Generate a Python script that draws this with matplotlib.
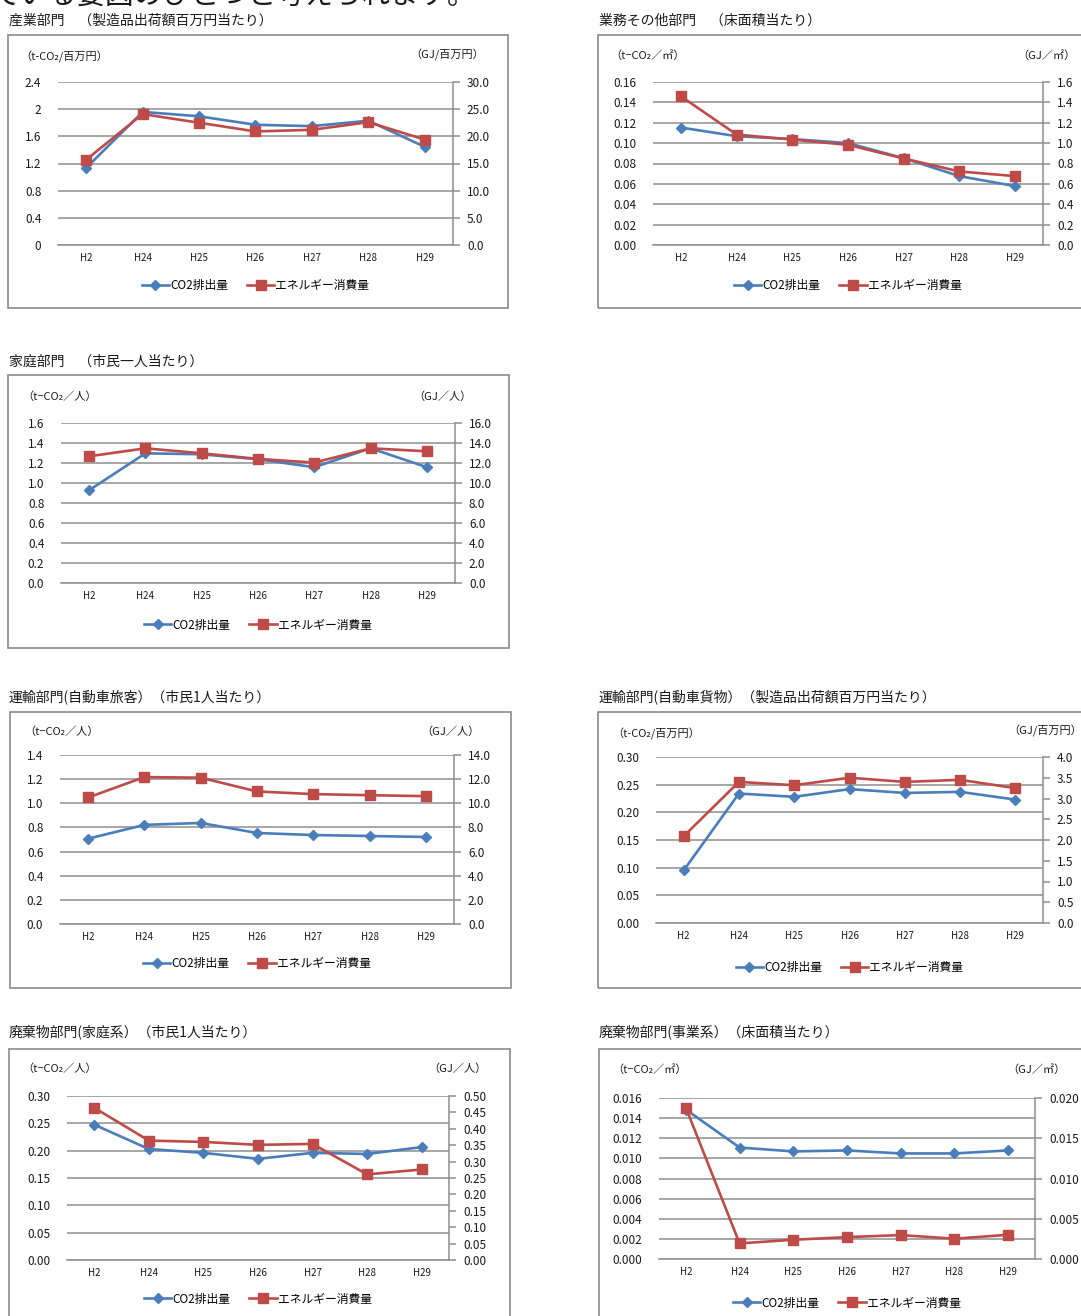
import matplotlib
matplotlib.use('Agg')
import matplotlib.pyplot as plt
from matplotlib.patches import Rectangle
from matplotlib.lines import Line2D

plt.rcParams['font.family'] = ['Noto Sans CJK JP', 'DejaVu Sans']

W, H = 1081, 1316
fig = plt.figure(figsize=(W / 100, H / 100), dpi=100)

categories = ['H2', 'H24', 'H25', 'H26', 'H27', 'H28', 'H29']
series_names = ['CO2排出量', 'エネルギー消費量']

# 産業部門
ind_co2 = [1.136, 1.96, 1.895, 1.77, 1.75, 1.83, 1.445]
ind_energy = [15.7, 24.1, 22.5, 20.9, 21.2, 22.6, 19.4]
# 業務その他部門
com_co2 = [0.1153, 0.1068, 0.104, 0.100, 0.0852, 0.0676, 0.0578]
com_energy = [1.46, 1.084, 1.035, 0.983, 0.849, 0.722, 0.676]
# 家庭部門
home_co2 = [0.928, 1.297, 1.287, 1.237, 1.158, 1.347, 1.158]
home_energy = [12.67, 13.47, 12.97, 12.41, 12.04, 13.47, 13.17]
# 運輸部門（自動車旅客）
pas_co2 = [0.707, 0.821, 0.837, 0.754, 0.737, 0.729, 0.721]
pas_energy = [10.48, 12.17, 12.12, 10.98, 10.76, 10.67, 10.59]
# 運輸部門（自動車貨物）
frt_co2 = [0.095, 0.234, 0.228, 0.242, 0.235, 0.237, 0.223]
frt_energy = [2.09, 3.40, 3.32, 3.50, 3.40, 3.45, 3.25]
# 廃棄物部門（家庭系）
wh_co2 = [0.2475, 0.203, 0.196, 0.185, 0.196, 0.194, 0.2065]
wh_energy = [0.464, 0.364, 0.360, 0.351, 0.354, 0.261, 0.276]
# 廃棄物部門（事業系）
wb_co2 = [0.01485, 0.01108, 0.01069, 0.01079, 0.01049, 0.01049, 0.01079]
wb_energy = [0.0188, 0.00194, 0.00239, 0.00272, 0.00297, 0.00252, 0.00301]

ind_lt = ['0', '0.4', '0.8', '1.2', '1.6', '2', '2.4']
ind_rt = ['0.0', '5.0', '10.0', '15.0', '20.0', '25.0', '30.0']
com_lt = ['0.00', '0.02', '0.04', '0.06', '0.08', '0.10', '0.12', '0.14', '0.16']
com_rt = ['0.0', '0.2', '0.4', '0.6', '0.8', '1.0', '1.2', '1.4', '1.6']
home_lt = ['0.0', '0.2', '0.4', '0.6', '0.8', '1.0', '1.2', '1.4', '1.6']
home_rt = ['0.0', '2.0', '4.0', '6.0', '8.0', '10.0', '12.0', '14.0', '16.0']
pas_lt = ['0.0', '0.2', '0.4', '0.6', '0.8', '1.0', '1.2', '1.4']
pas_rt = ['0.0', '2.0', '4.0', '6.0', '8.0', '10.0', '12.0', '14.0']
frt_lt = ['0.00', '0.05', '0.10', '0.15', '0.20', '0.25', '0.30']
frt_rt = ['0.0', '0.5', '1.0', '1.5', '2.0', '2.5', '3.0', '3.5', '4.0']
wh_lt = ['0.00', '0.05', '0.10', '0.15', '0.20', '0.25', '0.30']
wh_rt = ['0.00', '0.05', '0.10', '0.15', '0.20', '0.25', '0.30', '0.35', '0.40', '0.45', '0.50']
wb_lt = ['0.000', '0.002', '0.004', '0.006', '0.008', '0.010', '0.012', '0.014', '0.016']
wb_rt = ['0.000', '0.005', '0.010', '0.015', '0.020']

BLUE = '#4A7EBB'
RED = '#BE4B48'
GRID = '#8E8E8E'
BOX = '#8A8A8A'
TXT = '#1a1a1a'


def fx(x):
    return x / W


def fy(y):
    return 1 - y / H


def panel(title, tpos, box, plot, co2, energy, lt, rt, lunit, runit,
          lunit_xy, runit_xy, legend_y, xpad=6):
    # title
    fig.text(fx(tpos[0]), fy(tpos[1]), title, fontsize=10, color=TXT,
             ha='left', va='center')
    # box
    bx0, by0, bx1, by1 = box
    fig.add_artist(Rectangle((fx(bx0), fy(by1)), (bx1 - bx0) / W, (by1 - by0) / H,
                             transform=fig.transFigure, fill=False,
                             edgecolor=BOX, lw=1.2))
    x0, y0, x1, y1 = plot
    ax = fig.add_axes([fx(x0), fy(y1), (x1 - x0) / W, (y1 - y0) / H])
    ax.set_xlim(-0.5, len(categories) - 0.5)
    lvals = [float(v) for v in lt]
    rvals = [float(v) for v in rt]
    ax.set_ylim(lvals[0], lvals[-1])
    ax.set_yticks(lvals)
    ax.set_yticklabels(lt)
    ax.yaxis.grid(True, color=GRID, lw=1.1)
    ax.set_axisbelow(True)
    ax.tick_params(axis='y', length=0, pad=12, labelsize=8.5, labelcolor=TXT)
    ax.set_xticks(range(len(categories)))
    ax.set_xticklabels(categories)
    ax.tick_params(axis='x', length=0, pad=xpad, labelsize=7, labelcolor=TXT)
    for s in ['left', 'right', 'top']:
        ax.spines[s].set_visible(False)
    ax.spines['bottom'].set_color(GRID)
    ax.spines['bottom'].set_linewidth(1.1)
    ax.patch.set_visible(False)

    ax2 = ax.twinx()
    ax2.set_ylim(rvals[0], rvals[-1])
    ax2.set_yticks(rvals)
    ax2.set_yticklabels(rt)
    for s in ['left', 'top', 'bottom']:
        ax2.spines[s].set_visible(False)
    ax2.spines['right'].set_color(GRID)
    ax2.spines['right'].set_linewidth(1.1)
    ax2.tick_params(axis='y', direction='out', length=5, width=1.1, color=GRID,
                    pad=5, labelsize=8.5, labelcolor=TXT)

    x = list(range(len(categories)))
    ax.plot(x, co2, color=BLUE, lw=1.9, marker='D', ms=5.5, clip_on=False,
            zorder=3)
    ax2.plot(x, energy, color=RED, lw=1.9, marker='s', ms=6.5, clip_on=False,
             zorder=3)

    fig.text(fx(lunit_xy[0]), fy(lunit_xy[1]), lunit, fontsize=8, color=TXT,
             ha='left', va='center')
    fig.text(fx(runit_xy[0]), fy(runit_xy[1]), runit, fontsize=8, color=TXT,
             ha='right', va='center')

    handles = [Line2D([], [], color=BLUE, lw=1.9, marker='D', ms=5.5),
               Line2D([], [], color=RED, lw=1.9, marker='s', ms=6.5)]
    fig.legend(handles, series_names, loc='center',
               bbox_to_anchor=(fx((x0 + x1) / 2), fy(legend_y)), ncol=2,
               frameon=False, fontsize=8.5, handlelength=2.3,
               handletextpad=0.1, columnspacing=1.6, borderpad=0)


# clipped sentence at the top of the page
fig.text(fx(-8), fy(-4), 'ている要因のひとつと考えられます。', fontsize=20.5,
         color=TXT, ha='left', va='center')

panel('産業部門　（製造品出荷額百万円当たり）', (9, 21), (8, 35, 508, 308),
      (58, 82, 453, 245), ind_co2, ind_energy, ind_lt, ind_rt,
      '（t-CO₂/百万円）', '（GJ/百万円）', (20, 57), (484, 55), 286)

panel('業務その他部門　（床面積当たり）', (599, 21), (598, 35, 1095, 308),
      (653, 82, 1043, 245), com_co2, com_energy, com_lt, com_rt,
      '（t−CO₂／㎡）', '（GJ／㎡）', (610, 56), (1076, 56), 286)

panel('家庭部門　（市民一人当たり）', (9, 362), (8, 375, 509, 648),
      (61, 423, 455, 583), home_co2, home_energy, home_lt, home_rt,
      '（t−CO₂／人）', '（GJ／人）', (22, 397), (472, 397), 625)

panel('運輸部門(自動車旅客）（市民1人当たり）', (9, 697), (10, 712, 511, 988),
      (60, 755, 454, 924), pas_co2, pas_energy, pas_lt, pas_rt,
      '（t−CO₂／人）', '（GJ／人）', (24, 732), (480, 732), 964)

panel('運輸部門(自動車貨物）（製造品出荷額百万円当たり）', (599, 697),
      (598, 712, 1095, 988), (656, 757, 1043, 923), frt_co2, frt_energy,
      frt_lt, frt_rt, '（t-CO₂/百万円）', '（GJ/百万円）', (612, 734),
      (1082, 731), 968)

panel('廃棄物部門(家庭系）（市民1人当たり）', (9, 1032), (9, 1049, 510, 1340),
      (67, 1096, 449, 1260), wh_co2, wh_energy, wh_lt, wh_rt,
      '（t−CO₂／人）', '（GJ／人）', (22, 1069), (487, 1069), 1299)

panel('廃棄物部門(事業系）（床面積当たり）', (599, 1032), (599, 1049, 1095, 1340),
      (659, 1098, 1035, 1259), wb_co2, wb_energy, wb_lt, wb_rt,
      '（t−CO₂／㎡）', '（GJ／㎡）', (612, 1070), (1066, 1070), 1303)

fig.savefig('out.png', dpi=100)
